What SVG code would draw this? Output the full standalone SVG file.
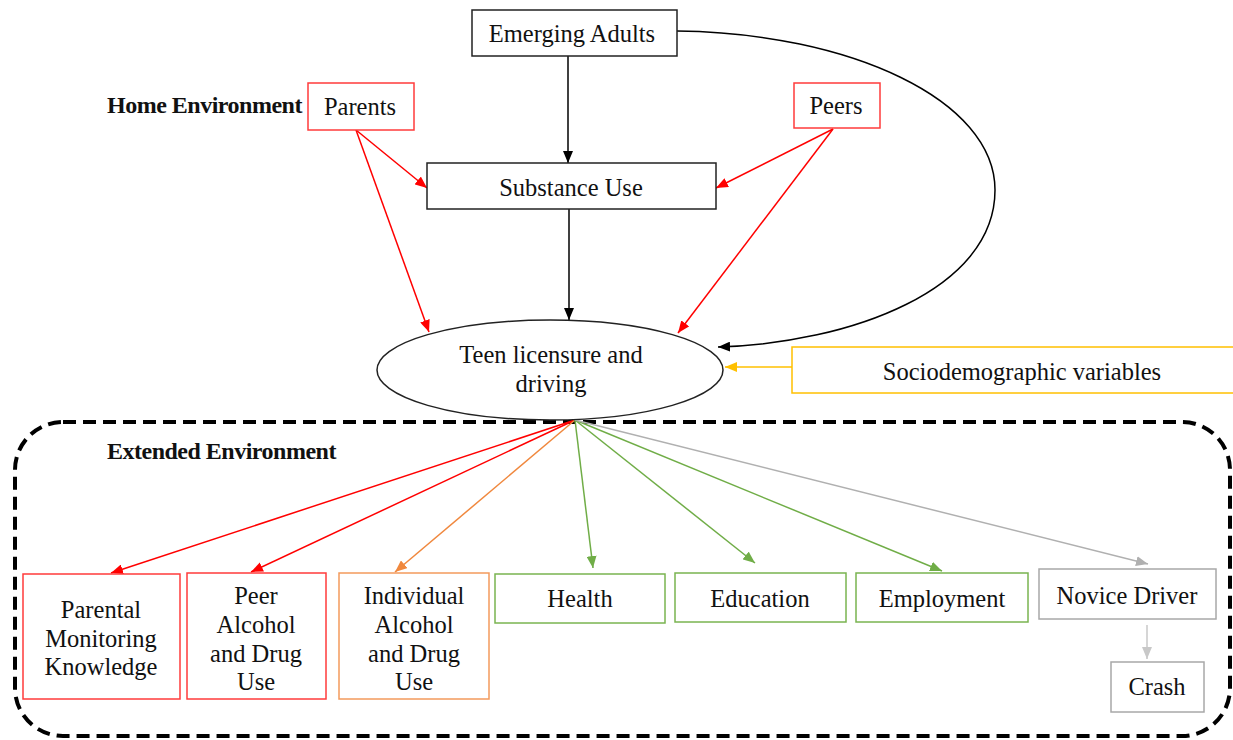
<svg xmlns="http://www.w3.org/2000/svg" width="1233" height="740" viewBox="0 0 1233 740" font-family="'Liberation Serif','Times New Roman',serif">
<defs>
<style>
text{font-family:'Liberation Serif','Times New Roman',serif;font-size:24.5px;fill:#111;text-anchor:middle}
.b{font-weight:bold;font-size:24px;text-anchor:start;letter-spacing:-0.5px}
.box{fill:#fff;stroke-width:1.5}
.k{stroke:#222}.r{stroke:#FF3B3B}.o{stroke:#F39A5C}.g{stroke:#7AB450}.gy{stroke:#A8A8A8}.y{stroke:#FFC000}
.c{fill:none;stroke-width:1.5}
</style>
<marker id="mk" viewBox="0 0 12 10" refX="12" refY="5" markerWidth="12" markerHeight="10" markerUnits="userSpaceOnUse" orient="auto"><path d="M0,0L12,5L0,10z" fill="#000"/></marker>
<marker id="mr" viewBox="0 0 12 10" refX="12" refY="5" markerWidth="12" markerHeight="10" markerUnits="userSpaceOnUse" orient="auto"><path d="M0,0L12,5L0,10z" fill="#FF0000"/></marker>
<marker id="mo" viewBox="0 0 12 10" refX="12" refY="5" markerWidth="12" markerHeight="10" markerUnits="userSpaceOnUse" orient="auto"><path d="M0,0L12,5L0,10z" fill="#F0883E"/></marker>
<marker id="mg" viewBox="0 0 12 10" refX="12" refY="5" markerWidth="12" markerHeight="10" markerUnits="userSpaceOnUse" orient="auto"><path d="M0,0L12,5L0,10z" fill="#70AD47"/></marker>
<marker id="mgy" viewBox="0 0 12 10" refX="12" refY="5" markerWidth="12" markerHeight="10" markerUnits="userSpaceOnUse" orient="auto"><path d="M0,0L12,5L0,10z" fill="#B0B0B0"/></marker>
<marker id="mlg" viewBox="0 0 12 10" refX="12" refY="5" markerWidth="12" markerHeight="10" markerUnits="userSpaceOnUse" orient="auto"><path d="M0,0L12,5L0,10z" fill="#C8C8C8"/></marker>
<marker id="my" viewBox="0 0 12 10" refX="12" refY="5" markerWidth="12" markerHeight="10" markerUnits="userSpaceOnUse" orient="auto"><path d="M0,0L12,5L0,10z" fill="#FFC000"/></marker>
</defs>
<rect width="1233" height="740" fill="#fff"/>

<g id="extended-environment">
<rect x="15" y="422" width="1215" height="314" rx="48" ry="48" fill="none" stroke="#000" stroke-width="4" stroke-dasharray="13 7"/>
<text class="b" x="107" y="459">Extended Environment</text>
</g>

<g id="home-environment-label"><text class="b" x="107" y="113">Home Environment</text></g>

<g id="connectors">
<line class="c" x1="568" y1="56" x2="568" y2="163" stroke="#000" marker-end="url(#mk)"/>
<line class="c" x1="569" y1="209" x2="569" y2="320" stroke="#000" marker-end="url(#mk)"/>
<path class="c" d="M677,31 C850,33 995,100 995,190 C995,290 850,343 718,347" stroke="#000" marker-end="url(#mk)"/>
<line class="c" x1="356" y1="130" x2="427" y2="188" stroke="#FF0000" marker-end="url(#mr)"/>
<line class="c" x1="356" y1="130" x2="429" y2="332" stroke="#FF0000" marker-end="url(#mr)"/>
<line class="c" x1="833" y1="129" x2="716" y2="188" stroke="#FF0000" marker-end="url(#mr)"/>
<line class="c" x1="833" y1="129" x2="678" y2="333" stroke="#FF0000" marker-end="url(#mr)"/>
<line class="c" x1="792" y1="367" x2="725" y2="367" stroke="#FFC000" marker-end="url(#my)"/>
<line class="c" x1="575" y1="420" x2="111" y2="573" stroke="#FF0000" marker-end="url(#mr)"/>
<line class="c" x1="575" y1="420" x2="251" y2="572" stroke="#FF0000" marker-end="url(#mr)"/>
<line class="c" x1="575" y1="420" x2="395" y2="572" stroke="#F0883E" marker-end="url(#mo)"/>
<line class="c" x1="575" y1="420" x2="593" y2="568" stroke="#70AD47" marker-end="url(#mg)"/>
<line class="c" x1="575" y1="420" x2="755" y2="563" stroke="#70AD47" marker-end="url(#mg)"/>
<line class="c" x1="575" y1="420" x2="942" y2="571" stroke="#70AD47" marker-end="url(#mg)"/>
<line class="c" x1="575" y1="420" x2="1148" y2="564" stroke="#B0B0B0" marker-end="url(#mgy)"/>
<line class="c" x1="1147" y1="625" x2="1147" y2="659" stroke="#C8C8C8" marker-end="url(#mlg)"/>
</g>

<g id="emerging-adults"><rect class="box k" x="472" y="10" width="205" height="46"/><text x="572" y="42">Emerging Adults</text></g>
<g id="parents"><rect class="box r" x="308" y="83" width="106" height="47"/><text x="360" y="115">Parents</text></g>
<g id="peers"><rect class="box r" x="794" y="83" width="86" height="45"/><text x="836" y="114">Peers</text></g>
<g id="substance-use"><rect class="box k" x="427" y="163" width="289" height="46"/><text x="571" y="196">Substance Use</text></g>
<g id="teen-licensure"><ellipse cx="550" cy="370" rx="173" ry="50" fill="#fff" stroke="#222" stroke-width="1.5"/><text x="551" y="363">Teen licensure and</text><text x="551" y="392">driving</text></g>
<g id="sociodemographic"><rect class="box y" x="792" y="347" width="460" height="46"/><text x="1022" y="380">Sociodemographic variables</text></g>

<g id="parental-monitoring"><rect class="box r" x="23" y="574" width="157" height="125"/><text x="101" y="618">Parental</text><text x="101" y="647">Monitoring</text><text x="101" y="675">Knowledge</text></g>
<g id="peer-alcohol"><rect class="box r" x="187" y="573" width="139" height="126"/><text x="256" y="604">Peer</text><text x="256" y="633">Alcohol</text><text x="256" y="662">and Drug</text><text x="256" y="690">Use</text></g>
<g id="individual-alcohol"><rect class="box o" x="339" y="573" width="150" height="126"/><text x="414" y="604">Individual</text><text x="414" y="633">Alcohol</text><text x="414" y="662">and Drug</text><text x="414" y="690">Use</text></g>
<g id="health"><rect class="box g" x="495" y="574" width="170" height="49"/><text x="580" y="607">Health</text></g>
<g id="education"><rect class="box g" x="675" y="573" width="171" height="49"/><text x="760" y="607">Education</text></g>
<g id="employment"><rect class="box g" x="856" y="573" width="172" height="49"/><text x="942" y="607">Employment</text></g>
<g id="novice-driver"><rect class="box gy" x="1039" y="569" width="177" height="50"/><text x="1127" y="604">Novice Driver</text></g>
<g id="crash"><rect class="box gy" x="1111" y="662" width="93" height="50"/><text x="1157" y="695">Crash</text></g>
</svg>
